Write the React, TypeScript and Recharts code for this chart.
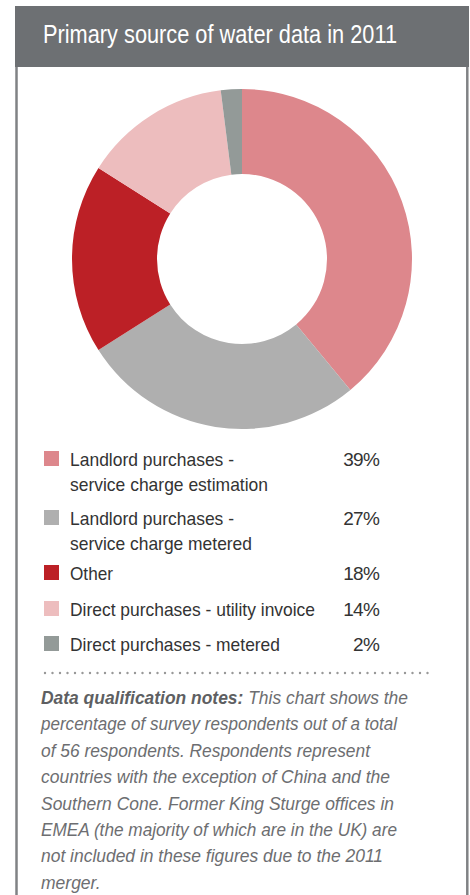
import React from "react";
import { PieChart, Pie, Cell } from "recharts";

const title = "Primary source of water data in 2011";
const categories = [
  "Landlord purchases - service charge estimation",
  "Landlord purchases - service charge metered",
  "Other",
  "Direct purchases - utility invoice",
  "Direct purchases - metered",
];
const legendLines = [
  ["Landlord purchases -", "service charge estimation"],
  ["Landlord purchases -", "service charge metered"],
  ["Other"],
  ["Direct purchases - utility invoice"],
  ["Direct purchases - metered"],
];
const values = [39, 27, 18, 14, 2];
const colors = ["#DD878C", "#AFAFAF", "#BC2026", "#EDBDBE", "#939A98"];
const noteLead = "Data qualification notes:";
const noteLines = [
  " This chart shows the",
  "percentage of survey respondents out of a total",
  "of 56 respondents. Respondents represent",
  "countries with the exception of China and the",
  "Southern Cone. Former King Sturge offices in",
  "EMEA (the majority of which are in the UK) are",
  "not included in these figures due to the 2011",
  "merger.",
];

const data = categories.map((name, i) => ({ name, value: values[i] }));

// layout (positions only)
const rowBaselines = [466, 525, 580, 616, 651];
const legendLineWidths = [[164, 198], [164, 182], [43], [245], [210]];
const noteWidths = [367, 356, 329, 349, 353, 356, 342, 0];
const FONT = "'Liberation Sans Narrow', 'Arial Narrow', 'Liberation Sans', Arial, sans-serif";

export default function App() {
  return (
    <div style={{ position: "absolute", left: 0, top: 0, width: 470, height: 895, background: "#fff" }}>
      <svg width={470} height={895} style={{ position: "absolute", left: 0, top: 0 }}>
        <rect x={15} y={6} width={454} height={61} fill="#6D7073" />
        <text x={43} y={43} fill="#ffffff" fontFamily={FONT} fontSize={25} textLength={354} lengthAdjust="spacingAndGlyphs">
          {title}
        </text>
        <line x1={16.5} y1={67} x2={16.5} y2={895} stroke="#808285" strokeWidth={2.5} />
        <line x1={467.3} y1={67} x2={467.3} y2={895} stroke="#808285" strokeWidth={2.5} />
      </svg>
      <div style={{ position: "absolute", left: 0, top: 0 }}>
        <PieChart width={470} height={440} margin={{ top: 0, right: 0, bottom: 0, left: 0 }}>
          <Pie
            data={data}
            dataKey="value"
            nameKey="name"
            cx={242}
            cy={259}
            innerRadius={85}
            outerRadius={170}
            startAngle={90}
            endAngle={-270}
            stroke="none"
            isAnimationActive={false}
          >
            {data.map((d, i) => (
              <Cell key={d.name} fill={colors[i]} />
            ))}
          </Pie>
        </PieChart>
      </div>
      <svg width={470} height={895} style={{ position: "absolute", left: 0, top: 0, pointerEvents: "none" }}>
        {categories.map((c, i) => (
          <g key={c}>
            <rect x={44} y={rowBaselines[i] - 15} width={15} height={15} fill={colors[i]} />
            {legendLines[i].map((ln, j) => (
              <text
                key={j}
                x={70}
                y={rowBaselines[i] + j * 25}
                fill="#333333"
                fontFamily={FONT}
                fontSize={19}
                textLength={legendLineWidths[i][j]}
                lengthAdjust="spacingAndGlyphs"
              >
                {ln}
              </text>
            ))}
            <text x={379} y={rowBaselines[i]} fill="#333333" fontFamily={FONT} fontSize={19} textAnchor="end" letterSpacing={-0.8}>
              {values[i]}%
            </text>
          </g>
        ))}
        <line x1={45} y1={673} x2={434} y2={673} stroke="#999999" strokeWidth={2.4} strokeLinecap="round" strokeDasharray="0 7.5" />
        {noteLines.map((ln, i) => (
          <text
            key={i}
            x={41}
            y={704 + i * 26.4}
            fill="#6D6E71"
            fontFamily={FONT}
            fontSize={17.5}
            fontStyle="italic"
            textLength={noteWidths[i] || undefined}
            lengthAdjust={noteWidths[i] ? "spacingAndGlyphs" : undefined}
          >
            {i === 0 ? (
              <>
                <tspan fontWeight="bold" fill="#5E5F62">{noteLead}</tspan>
                <tspan>{ln}</tspan>
              </>
            ) : (
              ln
            )}
          </text>
        ))}
      </svg>
    </div>
  );
}
